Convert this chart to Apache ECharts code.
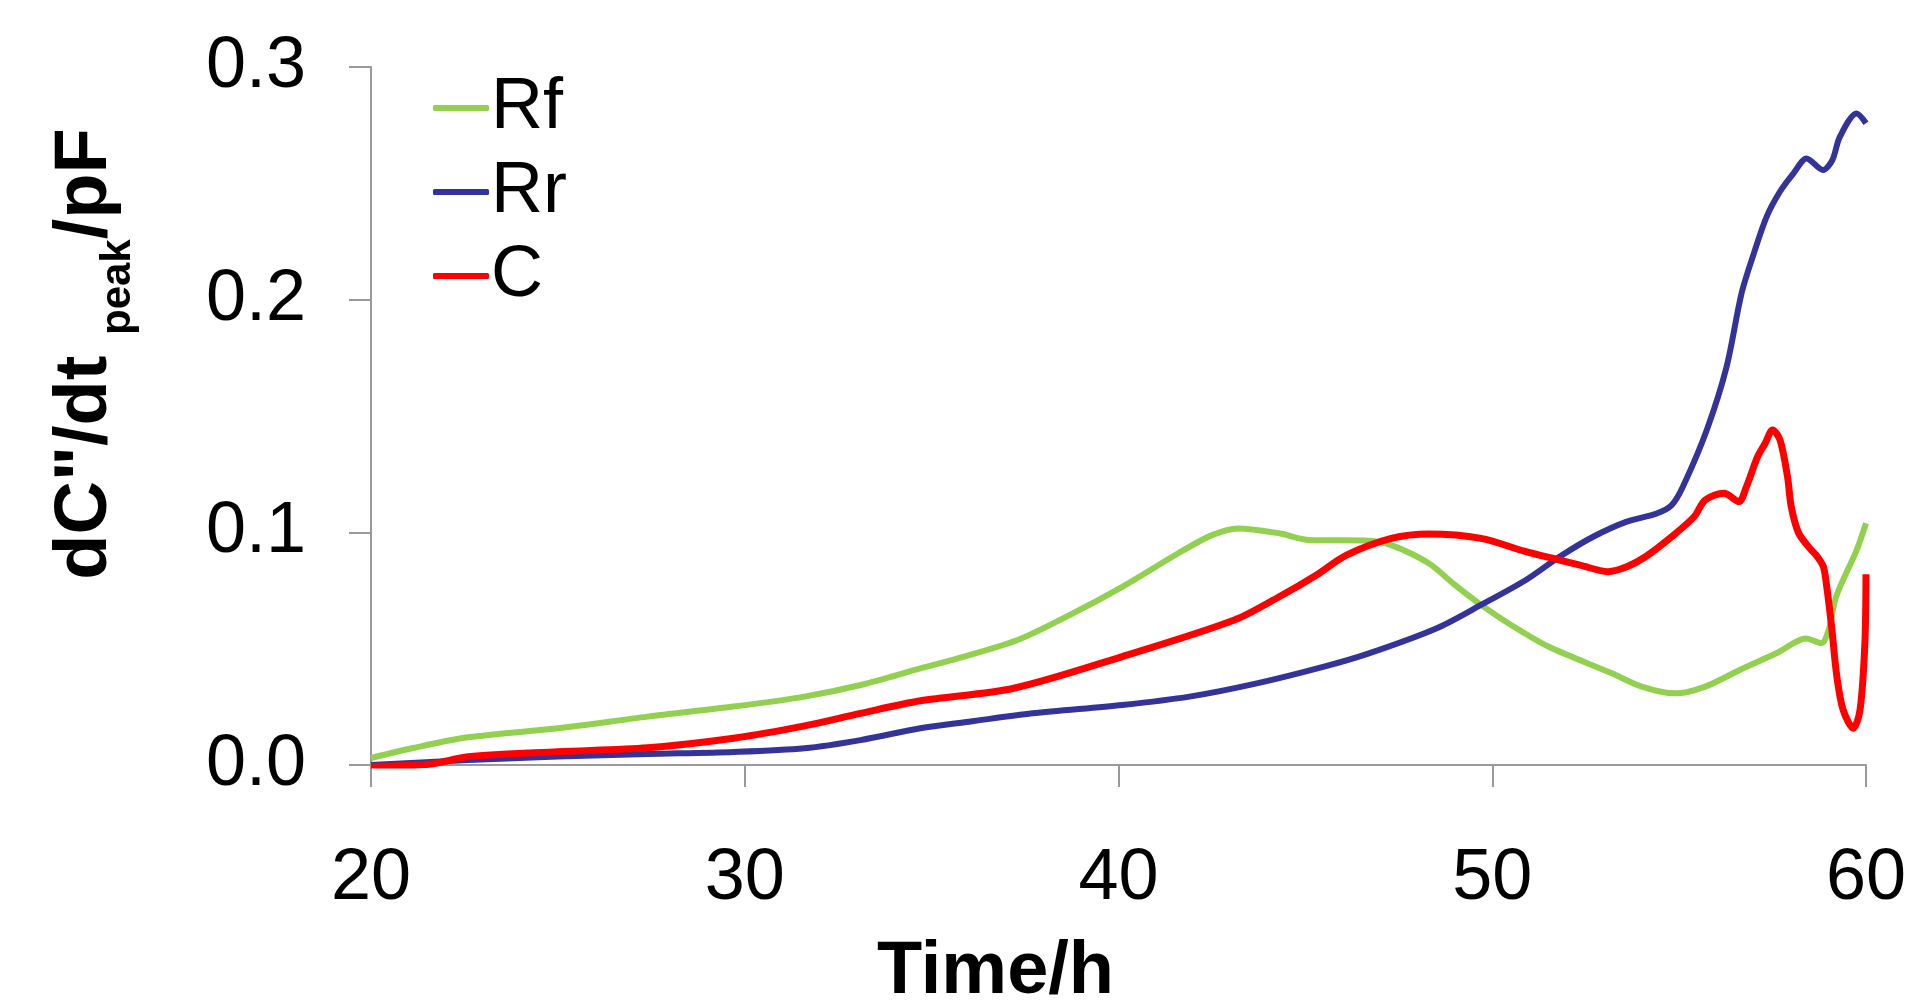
<!DOCTYPE html>
<html>
<head>
<meta charset="utf-8">
<title>dC''/dt peak</title>
<script src="https://cdn.jsdelivr.net/npm/echarts@6/dist/echarts.min.js"></script>
<style>
  html, body { margin: 0; padding: 0; background: #ffffff; }
  #chart { width: 1912px; height: 1000px; }
</style>
</head>
<body>
<div id="chart"></div>
<script>
// Time axis ticks (h) and value ticks
const xTicks = [20, 30, 40, 50, 60];
const yTicks = [0.0, 0.1, 0.2, 0.3];

// Rf series
const rfTime = [20, 21.1, 22.6, 25, 27.4, 29.7, 31.6, 33.1, 34.7, 35.7, 37.3, 38.7, 40.1, 41.6, 42.5, 43.2, 44.3, 45.1, 46.7, 47.3, 48.3, 49.0, 49.7, 50.5, 51.5, 53.2, 54.0, 54.9, 55.7, 56.7, 57.6, 58.4, 58.8, 59.0, 59.2, 59.75, 60];
const rfValues = [0.003, 0.0072, 0.0119, 0.0158, 0.0208, 0.0251, 0.0294, 0.0344, 0.0415, 0.0458, 0.0537, 0.0645, 0.0766, 0.091, 0.0988, 0.1017, 0.0996, 0.0967, 0.0964, 0.0945, 0.0867, 0.0774, 0.0688, 0.0602, 0.0509, 0.0394, 0.0337, 0.0308, 0.0337, 0.0415, 0.048, 0.0544, 0.0523, 0.058, 0.0723, 0.0924, 0.1039];

// Rr series
const rrTime = [20, 22.6, 25, 27.4, 29.7, 31.6, 33.1, 34.7, 36.0, 37.7, 40.1, 41.9, 43.7, 45.5, 46.7, 48.5, 49.7, 50.9, 51.8, 52.7, 53.6, 54.4, 54.8, 55.1, 55.74, 56.27, 56.67, 57.0, 57.34, 57.7, 58.06, 58.41, 58.85, 59.1, 59.3, 59.75, 60];
const rrValues = [0, 0.0021, 0.0036, 0.0047, 0.0056, 0.0072, 0.0107, 0.0158, 0.0186, 0.0222, 0.0258, 0.0294, 0.0351, 0.0423, 0.048, 0.0587, 0.0688, 0.0795, 0.0895, 0.0981, 0.1046, 0.1081, 0.1117, 0.1196, 0.144, 0.1712, 0.2027, 0.2199, 0.2356, 0.2465, 0.2543, 0.2607, 0.2557, 0.26, 0.27, 0.28, 0.2758];

// C series
const cTime = [20, 21.6, 22.6, 25, 27.4, 29.7, 31.6, 33.1, 34.7, 37.2, 40.1, 43.1, 44.3, 45.3, 46.1, 47.3, 48.3, 49.7, 50.9, 51.8, 52.35, 53.1, 53.6, 54.1, 54.8, 55.4, 55.7, 56.2, 56.6, 56.8, 57.1, 57.3, 57.5, 57.7, 57.9, 58.0, 58.2, 58.5, 58.7, 58.86, 58.95, 59.08, 59.22, 59.39, 59.66, 59.84, 59.97, 60];
const cValues = [-0.0007, 0.0004, 0.0036, 0.0057, 0.0074, 0.0115, 0.0168, 0.0222, 0.0276, 0.033, 0.0466, 0.0623, 0.0723, 0.0817, 0.0902, 0.0974, 0.0993, 0.0974, 0.0917, 0.0881, 0.0859, 0.0831, 0.0852, 0.0895, 0.0981, 0.1067, 0.1139, 0.1168, 0.1132, 0.1196, 0.1325, 0.1382, 0.144, 0.1397, 0.1239, 0.111, 0.0996, 0.0931, 0.0895, 0.0852, 0.0766, 0.0594, 0.038, 0.0236, 0.0158, 0.0236, 0.0523, 0.082];

const seriesNames = ['Rf', 'Rr', 'C'];
const seriesColors = ['#92D050', '#333399', '#FF0000'];

const pairs = (ts, vs) => ts.map((t, i) => [t, vs[i]]);
const FONT = '"Liberation Sans", Arial, Helvetica, sans-serif';
const axisGrey = '#9a9a9a';

const chart = echarts.init(document.getElementById('chart'), null, { renderer: 'canvas' });

const seriesData = [pairs(rfTime, rfValues), pairs(rrTime, rrValues), pairs(cTime, cValues)];
const lineWidths = [6, 6, 7];

chart.setOption({
  animation: false,
  backgroundColor: '#ffffff',
  grid: { left: 371, right: 46, top: 67, bottom: 235, containLabel: false, outerBoundsMode: 'none' },
  legend: {
    data: seriesNames.map((name, i) => ({
      name,
      icon: 'roundRect',
      itemStyle: { color: seriesColors[i] }
    })),
    orient: 'vertical',
    left: 428,
    top: 67,
    itemWidth: 56,
    itemHeight: 6,
    itemGap: 12,
    textStyle: { fontFamily: FONT, fontSize: 72, color: '#000', lineHeight: 72, padding: [0, 0, 0, -3] }
  },
  xAxis: {
    type: 'value',
    min: xTicks[0],
    max: xTicks[xTicks.length - 1],
    interval: xTicks[1] - xTicks[0],
    name: 'Time/h',
    nameLocation: 'middle',
    nameGap: 171,
    nameTextStyle: { fontFamily: FONT, fontSize: 74, fontWeight: 'bold', color: '#000', padding: [0, 246, 0, 0] },
    axisLine: { show: true, onZero: false, lineStyle: { color: axisGrey, width: 2 } },
    axisTick: { show: true, inside: false, length: 22, lineStyle: { color: axisGrey, width: 2 } },
    axisLabel: { fontFamily: FONT, fontSize: 72, color: '#000', margin: 78 },
    splitLine: { show: false }
  },
  yAxis: {
    type: 'value',
    min: yTicks[0],
    max: yTicks[yTicks.length - 1],
    interval: yTicks[1] - yTicks[0],
    name: '{m|dC"/dt }{s|peak}{m|/pF}',
    nameLocation: 'middle',
    nameGap: 248,
    nameTextStyle: {
      padding: [0, 0, 0, 124],
      rich: {
        m: { fontFamily: FONT, fontSize: 74, fontWeight: 'bold', color: '#000', lineHeight: 74, verticalAlign: 'top' },
        s: { fontFamily: FONT, fontSize: 42, fontWeight: 'bold', color: '#000', lineHeight: 42, verticalAlign: 'top', padding: [48, 0, 0, 0] }
      }
    },
    axisLine: { show: true, lineStyle: { color: axisGrey, width: 2 } },
    axisTick: { show: true, inside: false, length: 22, lineStyle: { color: axisGrey, width: 2 } },
    axisLabel: { fontFamily: FONT, fontSize: 72, color: '#000', margin: 65, formatter: v => v.toFixed(1) },
    splitLine: { show: false }
  },
  series: seriesNames.map((name, i) => ({
    name,
    type: 'line',
    data: seriesData[i],
    smooth: 0.3,
    symbol: 'none',
    showSymbol: false,
    clip: true,
    color: seriesColors[i],
    lineStyle: { color: seriesColors[i], width: lineWidths[i] }
  }))
});
</script>
</body>
</html>
